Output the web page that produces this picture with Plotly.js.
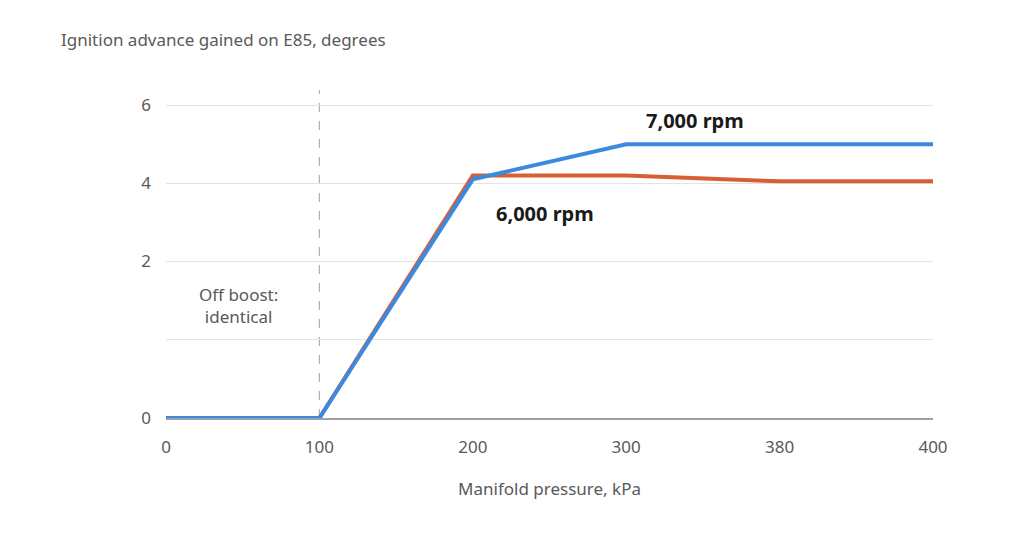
<!DOCTYPE html>
<html>
<head>
<meta charset="utf-8">
<script src="https://cdn.plot.ly/plotly-3.0.1.min.js"></script>
<style>
  html, body { margin: 0; padding: 0; background: #fff; }
  #chart { width: 1024px; height: 542px; }
</style>
</head>
<body>
<div id="chart"></div>
<script>
// manifold pressure, kPa (shown as evenly spaced categories)
var pressure = ['0', '100', '200', '300', '380', '400']

// ignition advance gained on E85, degrees
var rpm6000 = [0, 0, 4.2, 4.2, 4.05, 4.05]
var rpm7000 = [0, 0, 4.1, 5, 5, 5]

var yTickVals = [0, 1, 2, 4, 6]
var yTickText = ['0', '', '2', '4', '6']

// the y scale is stretched below 2: 0..2 takes two gridline bands
var yScale = function (v) {
  return v >= 2 ? v : 2 * v - 2
}

var grey = '#595959'
var font = '"Noto Sans", "Open Sans", sans-serif'

var trace6 = {
  x: pressure,
  y: rpm6000.map(yScale),
  mode: 'lines',
  type: 'scatter',
  line: { color: '#d65f35', width: 4 },
  hoverinfo: 'skip'
}
var trace7 = {
  x: pressure,
  y: rpm7000.map(yScale),
  mode: 'lines',
  type: 'scatter',
  line: { color: '#3b8ae0', width: 4 },
  hoverinfo: 'skip'
}

var layout = {
  width: 1024,
  height: 542,
  showlegend: false,
  paper_bgcolor: '#fff',
  plot_bgcolor: '#fff',
  margin: { l: 166, r: 91, t: 90, b: 124 },
  font: { family: font, size: 17, color: grey },
  xaxis: {
    type: 'category',
    range: [0, 5],
    showgrid: false,
    zeroline: false,
    showline: true,
    linecolor: '#a0a0a0',
    linewidth: 1.5,
    ticks: '',
    ticklabelstandoff: 13,
    tickfont: { size: 17, color: grey },
    title: { text: 'Manifold pressure, kPa', font: { size: 17, color: grey }, standoff: 26 }
  },
  yaxis: {
    range: [-2, 6.385],
    tickvals: yTickVals.map(yScale),
    ticktext: yTickText,
    showgrid: true,
    gridcolor: '#e3e3e3',
    gridwidth: 1,
    zeroline: false,
    showline: false,
    ticks: '',
    ticklabelstandoff: 14,
    tickfont: { size: 17, color: grey }
  },
  shapes: [{
    type: 'line',
    xref: 'x', yref: 'paper',
    x0: 1, x1: 1, y0: 0, y1: 1,
    line: { color: '#b0b0b0', width: 1.2, dash: 'dash' },
    layer: 'below'
  }],
  annotations: [
    {
      xref: 'paper', yref: 'paper',
      x: -0.14, y: 1.155, xanchor: 'left', yanchor: 'middle',
      text: 'Ignition advance gained on E85, degrees',
      showarrow: false,
      font: { size: 17, color: grey }
    },
    {
      xref: 'x', yref: 'y',
      x: 3.45, y: yScale(5.6),
      text: '<b>7,000 rpm</b>',
      showarrow: false,
      font: { size: 20, color: '#1a1a1a' }
    },
    {
      xref: 'x', yref: 'y',
      x: 2.47, y: yScale(3.22),
      text: '<b>6,000 rpm</b>',
      showarrow: false,
      font: { size: 20, color: '#1a1a1a' }
    },
    {
      xref: 'x', yref: 'y',
      x: 0.47, y: yScale(1.44),
      text: 'Off boost:<br>identical',
      showarrow: false,
      align: 'center',
      font: { size: 17, color: grey }
    }
  ]
}

Plotly.newPlot('chart', [trace6, trace7], layout, { staticPlot: true, displayModeBar: false })
</script>
</body>
</html>
